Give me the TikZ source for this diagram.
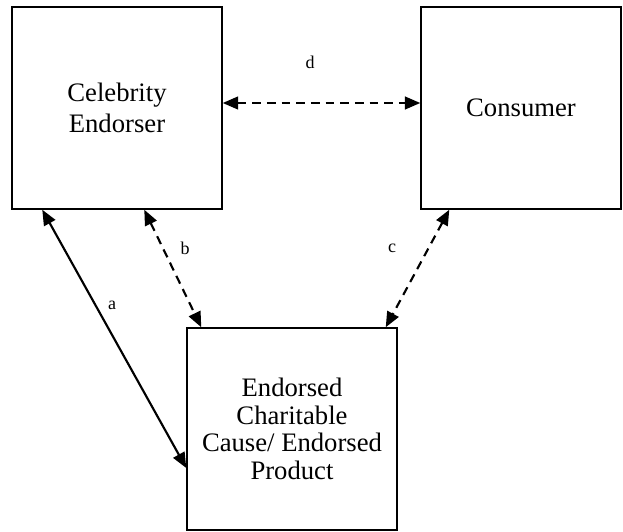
\documentclass[tikz,border=0pt]{standalone}
\usepackage{fontspec}
\setmainfont{Liberation Serif}
\usetikzlibrary{arrows.meta,calc}

\tikzset{
  box/.style={draw, line width=1.1pt, rectangle, align=center,
              font=\fontsize{20}{23}\selectfont},
  link/.style={line width=1.6pt, {Triangle[length=11.5pt,width=9.5pt]}-{Triangle[length=11.5pt,width=9.5pt]}},
  dlink/.style={link, dash pattern=on 6.5pt off 4.5pt},
  lbl/.style={font=\fontsize{13.5}{15}\selectfont}
}

\begin{document}
\begin{tikzpicture}[x=0.75pt,y=0.75pt,yscale=-1,xscale=1]
\path[use as bounding box] (0,0) rectangle (623,531);

% Boxes
\node[box, minimum width=157.5pt, minimum height=151.5pt] (celeb) at (117,108) {Celebrity\\Endorser};
\node[box, minimum width=150pt, minimum height=151.5pt] (consumer) at (521,108) {Consumer};
\node[box, minimum width=157.5pt, minimum height=151.5pt,
      font=\fontsize{20}{20.6}\selectfont] (product) at (292,429) {Endorsed\\Charitable\\Cause/ Endorsed\\Product};

% Links
\draw[link] ($(celeb.south west)+(31,0)$) -- ($(product.west)+(0,39)$);
\draw[dlink] ($(celeb.south west)+(133,0)$) -- ($(product.north west)+(15,0)$);
\draw[dlink] ($(consumer.south west)+(29,0)$) -- ($(product.north east)+(-12,0)$);
\draw[dlink] ($(celeb.east)+(0,-5)$) -- ($(consumer.west)+(0,-5)$);

% Labels
\node[lbl] (la) at (112,305) {a};
\node[lbl] (lb) at (185,248) {b};
\node[lbl] (lc) at (392,248) {c};
\node[lbl] (ld) at (310,62) {d};
\end{tikzpicture}
\end{document}
